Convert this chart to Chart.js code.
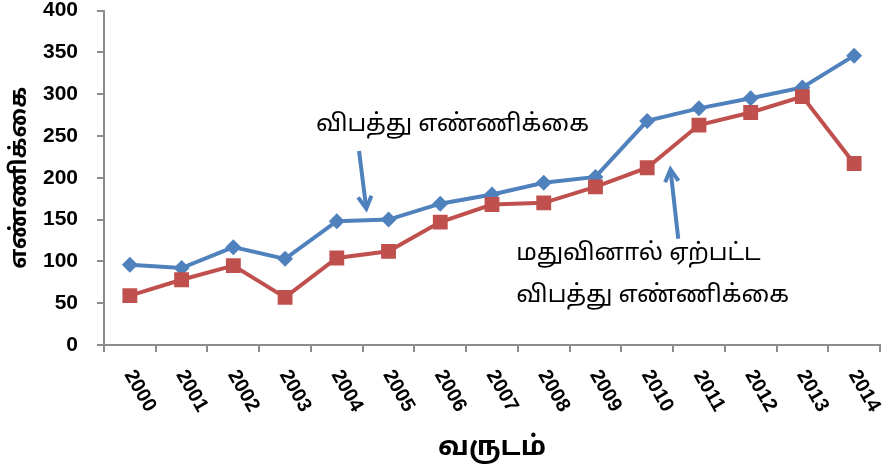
<!DOCTYPE html>
<html>
<head>
<meta charset="utf-8">
<script src="https://cdn.jsdelivr.net/npm/chart.js@4"></script>
<style>
  body { margin: 0; background: #fff; }
  canvas { display: block; }
</style>
</head>
<body>
<canvas id="accidentChart" width="895" height="476"></canvas>
<script>
const years = ['2000', '2001', '2002', '2003', '2004', '2005', '2006', '2007',
    '2008', '2009', '2010', '2011', '2012', '2013', '2014'];
const totalAccidents = [96, 92, 117, 103, 148, 150, 169, 180, 194, 201, 268, 283, 295, 308, 346];
const alcoholAccidents = [59, 78, 95, 57, 104, 112, 147, 168, 170, 189, 212, 263, 278, 297, 217];
const yTicks = [0, 50, 100, 150, 200, 250, 300, 350, 400];

const blue = '#4F81BD';
const red = '#C0504D';
const axisGrey = '#8c8c8c';
const numFont = '"Liberation Sans", Arial, sans-serif';
const tamilFont = '"Noto Sans Tamil", "Noto Sans", sans-serif';

// notes placed in data units: [x index, y value]
const notes = [
    { lines: ['விபத்து எண்ணிக்கை'], at: [3.6, 262], arrow: [[4.43, 232], [4.57, 163]] },
    { lines: ['மதுவினால் ஏற்பட்ட', 'விபத்து எண்ணிக்கை'], at: [7.47, 107], arrow: [[10.6, 127], [10.45, 210]] }
];

function drawArrow(ctx, x1, y1, x2, y2) {
    const ang = Math.atan2(y2 - y1, x2 - x1);
    const head = 14;
    ctx.save();
    ctx.strokeStyle = blue;
    ctx.lineWidth = 4;
    ctx.beginPath();
    ctx.moveTo(x1, y1);
    ctx.lineTo(x2 - Math.cos(ang) * 3, y2 - Math.sin(ang) * 3);
    ctx.stroke();
    ctx.beginPath();
    ctx.moveTo(x2 - head * Math.cos(ang - 0.5), y2 - head * Math.sin(ang - 0.5));
    ctx.lineTo(x2, y2);
    ctx.lineTo(x2 - head * Math.cos(ang + 0.5), y2 - head * Math.sin(ang + 0.5));
    ctx.stroke();
    ctx.restore();
}

const extrasPlugin = {
    id: 'extras',
    afterDraw(chart) {
        const ctx = chart.ctx;
        const xs = chart.scales.x;
        const ys = chart.scales.y;

        // rotated year labels (running top-left to bottom-right)
        ctx.save();
        ctx.fillStyle = '#000';
        ctx.font = 'bold 20px ' + numFont;
        ctx.textAlign = 'center';
        ctx.textBaseline = 'middle';
        years.forEach((yr, i) => {
            const px = xs.getPixelForValue(i);
            ctx.save();
            ctx.translate(px + 10, ys.bottom + 46);
            ctx.rotate(60 * Math.PI / 180);
            ctx.fillText(yr, 0, 0);
            ctx.restore();
        });
        ctx.restore();

        // text notes with arrows
        ctx.save();
        ctx.fillStyle = '#000';
        ctx.font = '24px ' + tamilFont;
        ctx.textAlign = 'left';
        ctx.textBaseline = 'middle';
        notes.forEach(n => {
            const tx = xs.getPixelForValue(n.at[0]);
            const ty = ys.getPixelForValue(n.at[1]);
            n.lines.forEach((line, k) => ctx.fillText(line, tx, ty + k * 42));
            const a = n.arrow;
            drawArrow(ctx,
                xs.getPixelForValue(a[0][0]), ys.getPixelForValue(a[0][1]),
                xs.getPixelForValue(a[1][0]), ys.getPixelForValue(a[1][1]));
        });
        ctx.restore();
    }
};

const ctx = document.getElementById('accidentChart').getContext('2d');
new Chart(ctx, {
    type: 'line',
    data: {
        labels: years,
        datasets: [{
            label: 'விபத்து எண்ணிக்கை',
            data: totalAccidents,
            borderColor: blue,
            backgroundColor: blue,
            borderWidth: 4,
            pointStyle: 'rectRot',
            pointRadius: 8,
            pointBorderWidth: 0,
            tension: 0,
            order: 2
        }, {
            label: 'மதுவினால் ஏற்பட்ட விபத்து எண்ணிக்கை',
            data: alcoholAccidents,
            borderColor: red,
            backgroundColor: red,
            borderWidth: 4,
            pointStyle: 'rect',
            pointRadius: 10.5,
            pointBorderWidth: 0,
            tension: 0,
            order: 1
        }]
    },
    options: {
        responsive: false,
        animation: false,
        layout: { padding: { top: 9, right: 15, left: 0, bottom: 0 } },
        plugins: {
            legend: { display: false },
            tooltip: { enabled: false }
        },
        scales: {
            x: {
                offset: true,
                grid: { display: true, drawOnChartArea: false, offset: true, tickLength: 7, color: axisGrey, lineWidth: 2 },
                border: { color: axisGrey, width: 2 },
                ticks: { display: false },
                title: {
                    display: true,
                    text: 'வருடம்',
                    color: '#000',
                    font: { size: 27, weight: 'bold', family: tamilFont },
                    padding: { top: 80, bottom: 10 }
                },
                afterFit(scale) {
                    scale.height = 131;
                    scale.paddingLeft = 0;
                    scale.paddingRight = 0;
                }
            },
            y: {
                min: 0,
                max: 400,
                afterBuildTicks(scale) { scale.ticks = yTicks.map(v => ({ value: v })); },
                grid: { display: true, drawOnChartArea: false, tickLength: 7, color: axisGrey, lineWidth: 2 },
                border: { color: axisGrey, width: 2 },
                ticks: {
                    color: '#000',
                    padding: 19,
                    font: { size: 21, weight: 'bold', family: numFont }
                },
                title: {
                    display: true,
                    text: 'எண்ணிக்கை',
                    color: '#000',
                    font: { size: 23, weight: 'bold', family: tamilFont },
                    padding: { top: 8, bottom: 0 }
                },
                afterFit(scale) {
                    scale.width = 104;
                    scale.paddingTop = 0;
                    scale.paddingBottom = 0;
                }
            }
        }
    },
    plugins: [extrasPlugin]
});
</script>
</body>
</html>
